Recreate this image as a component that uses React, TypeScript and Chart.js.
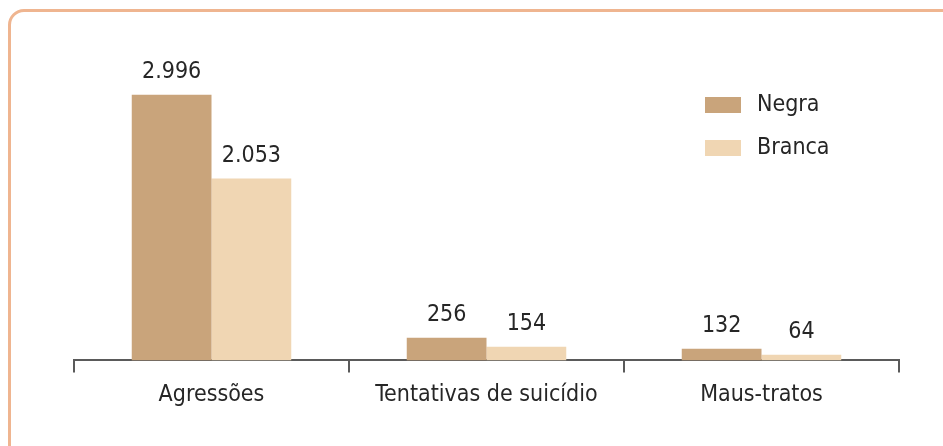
import React, { useEffect, useRef } from "react";
import { Chart, registerables } from "chart.js";
Chart.register(...registerables);

const categories = ["Agressões", "Tentativas de suicídio", "Maus-tratos"];
const negra = [2996, 256, 132];
const branca = [2053, 154, 64];
const seriesNames = ["Negra", "Branca"];
const yMax = 3615;

const FONT = '"Liberation Sans Narrow", "DejaVu Sans Condensed", sans-serif';
const COL_NEGRA = "#c9a47b";
const COL_BRANCA = "#f0d6b3";
const TEXT = "#262626";
const AXIS = "#5a5a5a";

const valueLabels = {
  id: "valueLabels",
  afterDatasetsDraw(chart: any) {
    const ctx = chart.ctx;
    ctx.save();
    ctx.font = `23px ${FONT}`;
    ctx.fillStyle = TEXT;
    ctx.textAlign = "center";
    ctx.textBaseline = "bottom";
    chart.data.datasets.forEach((ds: any, i: number) => {
      const meta = chart.getDatasetMeta(i);
      meta.data.forEach((bar: any, j: number) => {
        const v = ds.data[j] as number;
        ctx.fillText(v.toLocaleString("pt-BR"), bar.x, bar.y - 11);
      });
    });
    ctx.restore();
  },
};

const sideLegend = {
  id: "sideLegend",
  afterDraw(chart: any) {
    const ctx = chart.ctx;
    ctx.save();
    ctx.font = `23px ${FONT}`;
    ctx.textBaseline = "middle";
    ctx.textAlign = "left";
    chart.data.datasets.forEach((ds: any, i: number) => {
      const y = 105 + i * 43;
      ctx.fillStyle = ds.backgroundColor;
      ctx.fillRect(705, y - 8, 36, 16);
      ctx.fillStyle = TEXT;
      ctx.fillText(ds.label, 757, y);
    });
    ctx.restore();
  },
};

export default function App() {
  const ref = useRef<HTMLCanvasElement>(null);
  useEffect(() => {
    if (!ref.current) return;
    const chart = new Chart(ref.current, {
      type: "bar",
      data: {
        labels: categories,
        datasets: [
          { label: seriesNames[0], data: negra, backgroundColor: COL_NEGRA, barPercentage: 1, categoryPercentage: 0.58 },
          { label: seriesNames[1], data: branca, backgroundColor: COL_BRANCA, barPercentage: 1, categoryPercentage: 0.58 },
        ],
      },
      options: {
        responsive: false,
        animation: false,
        layout: { padding: { left: 74, right: 44, top: 40, bottom: 28 } },
        plugins: { legend: { display: false }, tooltip: { enabled: false } },
        scales: {
          y: { display: false, min: 0, max: yMax },
          x: {
            offset: true,
            grid: { offset: true, drawOnChartArea: false, drawTicks: true, tickLength: 12, color: AXIS, lineWidth: 2 },
            border: { display: true, color: AXIS, width: 2 },
            ticks: { color: TEXT, font: { family: FONT, size: 23 }, padding: 9, maxRotation: 0 },
          },
        },
      },
      plugins: [valueLabels, sideLegend],
    });
    return () => chart.destroy();
  }, []);
  return (
    <div style={{ position: "fixed", left: 0, top: 0, width: 943, height: 446, overflow: "hidden", background: "#fff" }}>
      <div
        style={{
          position: "absolute",
          left: 8,
          top: 9,
          width: 950,
          height: 460,
          border: "3px solid #efb590",
          borderRadius: 16,
          boxSizing: "border-box",
        }}
      />
      <canvas ref={ref} width={943} height={446} style={{ position: "absolute", left: 0, top: 0, width: 943, height: 446 }} />
    </div>
  );
}
